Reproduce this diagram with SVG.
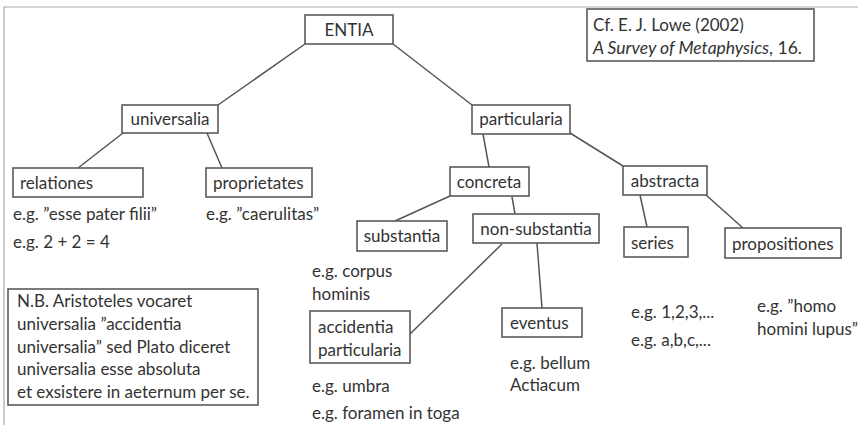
<svg xmlns="http://www.w3.org/2000/svg" width="858" height="425" viewBox="0 0 858 425">
<style>
.b{fill:#fff;stroke:#5a5a5a;stroke-width:1.6}
.t{font-family:Lato,"Open Sans",sans-serif;font-size:17px;fill:#333}
.c line{stroke:#555;stroke-width:1.5}
</style>
<rect width="858" height="425" fill="#fff"/>
<path d="M4,425 V7 H858" fill="none" stroke="#aaa" stroke-width="1.2"/>
<g class="c" id="connectors">
<line x1="305" y1="44" x2="218" y2="105"/>
<line x1="393" y1="44" x2="472" y2="105"/>
<line x1="123" y1="133" x2="78" y2="168"/>
<line x1="207" y1="133" x2="222" y2="168"/>
<line x1="483" y1="134" x2="489" y2="167"/>
<line x1="570" y1="133" x2="623" y2="166"/>
<line x1="450" y1="196" x2="395" y2="221"/>
<line x1="512" y1="197" x2="515" y2="214"/>
<line x1="502" y1="244" x2="410" y2="334"/>
<line x1="537" y1="243" x2="542" y2="308"/>
<line x1="640" y1="195" x2="647" y2="227"/>
<line x1="706" y1="195" x2="743" y2="228"/>
</g>
<g id="entia"><rect class="b" x="305" y="15" width="88" height="29"/><text class="t" x="349" y="36" text-anchor="middle">ENTIA</text></g>
<g id="cf"><rect class="b" x="587" y="9" width="227" height="52"/><text class="t" x="593" y="31">Cf. E. J. Lowe (2002)</text><text class="t" x="593" y="54" style="font-size:17.5px"><tspan font-style="italic">A Survey of Metaphysics</tspan>, 16.</text></g>
<g id="universalia"><rect class="b" x="122" y="105" width="96" height="28"/><text class="t" x="170" y="125" text-anchor="middle">universalia</text></g>
<g id="particularia"><rect class="b" x="472" y="105" width="98" height="29"/><text class="t" x="521" y="125" text-anchor="middle">particularia</text></g>
<g id="relationes"><rect class="b" x="13" y="168" width="130" height="29"/><text class="t" x="20" y="189">relationes</text>
<text class="t" x="13" y="220">e.g. ”esse pater filii”</text><text class="t" x="13" y="248">e.g. 2 + 2 = 4</text></g>
<g id="proprietates"><rect class="b" x="206" y="168" width="106" height="29"/><text class="t" x="213" y="189">proprietates</text>
<text class="t" x="206" y="220">e.g. ”caerulitas”</text></g>
<g id="concreta"><rect class="b" x="450" y="167" width="79" height="29"/><text class="t" x="489" y="188" text-anchor="middle">concreta</text></g>
<g id="abstracta"><rect class="b" x="623" y="166" width="84" height="29"/><text class="t" x="665" y="187" text-anchor="middle">abstracta</text></g>
<g id="substantia"><rect class="b" x="357" y="221" width="90" height="30"/><text class="t" x="402" y="242" text-anchor="middle">substantia</text>
<text class="t" x="312" y="277">e.g. corpus</text><text class="t" x="312" y="300">hominis</text></g>
<g id="nonsubstantia"><rect class="b" x="473" y="214" width="126" height="29"/><text class="t" x="536" y="235" text-anchor="middle">non-substantia</text></g>
<g id="series"><rect class="b" x="624" y="227" width="64" height="30"/><text class="t" x="631" y="249">series</text>
<text class="t" x="631" y="318">e.g. 1,2,3,...</text><text class="t" x="631" y="346">e.g. a,b,c,...</text></g>
<g id="propositiones"><rect class="b" x="725" y="228" width="116" height="30"/><text class="t" x="732" y="250">propositiones</text>
<text class="t" x="757" y="312">e.g. ”homo</text><text class="t" x="757" y="335">homini lupus”</text></g>
<g id="accidentia"><rect class="b" x="310" y="311" width="100" height="52"/><text class="t" x="318" y="333">accidentia</text><text class="t" x="318" y="356">particularia</text>
<text class="t" x="312" y="392">e.g. umbra</text><text class="t" x="312" y="419">e.g. foramen in toga</text></g>
<g id="eventus"><rect class="b" x="502" y="308" width="80" height="29"/><text class="t" x="510" y="329">eventus</text>
<text class="t" x="510" y="369">e.g. bellum</text><text class="t" x="510" y="391">Actiacum</text></g>
<g id="nb"><rect class="b" x="8" y="289" width="250" height="116"/>
<text class="t" x="17" y="307">N.B. Aristoteles vocaret</text>
<text class="t" x="17" y="330">universalia ”accidentia</text>
<text class="t" x="17" y="353">universalia” sed Plato diceret</text>
<text class="t" x="17" y="375">universalia esse absoluta</text>
<text class="t" x="17" y="398">et exsistere in aeternum per se.</text></g>
</svg>
